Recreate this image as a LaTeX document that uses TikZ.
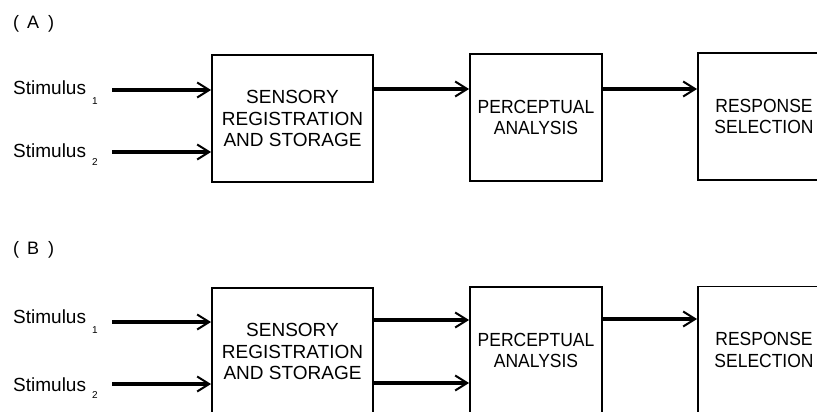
\documentclass[tikz,border=0pt]{standalone}
\usepackage{fontspec}
\setmainfont{Liberation Sans}
\newfontfamily\narrowfont[FakeStretch=0.92]{Liberation Sans}
\usetikzlibrary{arrows.meta,calc}

\begin{document}
\begin{tikzpicture}[x=1pt,y=-1pt,
    box/.style={draw, line width=1.9pt, inner sep=0pt, minimum height=127pt,
        align=center, font=\fontsize{19}{21.5}\selectfont},
    nbox/.style={box, minimum width=132pt, font=\narrowfont\fontsize{19}{21.5}\selectfont},
    arr/.style={-{Straight Barb[length=12pt,width=15pt,line width=2pt]}, line width=3.2pt},
    stim/.style={anchor=base west, inner sep=0pt, font=\fontsize{19}{21.5}\selectfont},
    tag/.style={anchor=base west, inner sep=0pt, font=\fontsize{18}{20}\selectfont}]
    \path[use as bounding box, clip] (0,0) rectangle (817,412);

    % (A)
    \node[tag] (taga) at (13,28.5) {(\hspace{8pt}A\hspace{9pt})};
    \node[stim] (sta1) at (13,95) {Stimulus\hspace{6pt}\raisebox{-10pt}{\fontsize{10}{10}\selectfont 1}};
    \node[stim] (sta2) at (13,157) {Stimulus\hspace{6pt}\raisebox{-9pt}{\fontsize{10}{10}\selectfont 2}};
    \node[box, minimum width=161pt] (sensa) at (292.5,118.5) {SENSORY\\REGISTRATION\\AND STORAGE};
    \node[nbox] (perca) at (536,117.5) {PERCEPTUAL\\ANALYSIS};
    \node[nbox] (respa) at (764,116.5) {RESPONSE\\SELECTION};
    \coordinate (ina1) at (112,90);
    \coordinate (ina2) at (112,152);
    \draw[arr] (ina1) -- (ina1 -| sensa.west);
    \draw[arr] (ina2) -- (ina2 -| sensa.west);
    \draw[arr] ([yshift=29.5pt]sensa.east) -- ([yshift=29.5pt]sensa.east -| perca.west);
    \draw[arr] ([yshift=28.5pt]perca.east) -- ([yshift=28.5pt]perca.east -| respa.west);

    % (B)
    \node[tag] (tagb) at (13,254.5) {(\hspace{8pt}B\hspace{9pt})};
    \node[stim] (stb1) at (13,323) {Stimulus\hspace{6pt}\raisebox{-10pt}{\fontsize{10}{10}\selectfont 1}};
    \node[stim] (stb2) at (13,391) {Stimulus\hspace{6pt}\raisebox{-7pt}{\fontsize{10}{10}\selectfont 2}};
    \node[box, minimum width=161pt] (sensb) at (292.5,351.5) {SENSORY\\REGISTRATION\\AND STORAGE};
    \node[nbox] (percb) at (536,350.5) {PERCEPTUAL\\ANALYSIS};
    \node[nbox] (respb) at (764,350) {RESPONSE\\SELECTION};
    \coordinate (inb1) at (112,322);
    \coordinate (inb2) at (112,384);
    \draw[arr] (inb1) -- (inb1 -| sensb.west);
    \draw[arr] (inb2) -- (inb2 -| sensb.west);
    \draw[arr] ([yshift=31.5pt]sensb.east) -- ([yshift=31.5pt]sensb.east -| percb.west);
    \draw[arr] ([yshift=-31.5pt]sensb.east) -- ([yshift=-31.5pt]sensb.east -| percb.west);
    \draw[arr] ([yshift=31.5pt]percb.east) -- ([yshift=31.5pt]percb.east -| respb.west);
\end{tikzpicture}
\end{document}
